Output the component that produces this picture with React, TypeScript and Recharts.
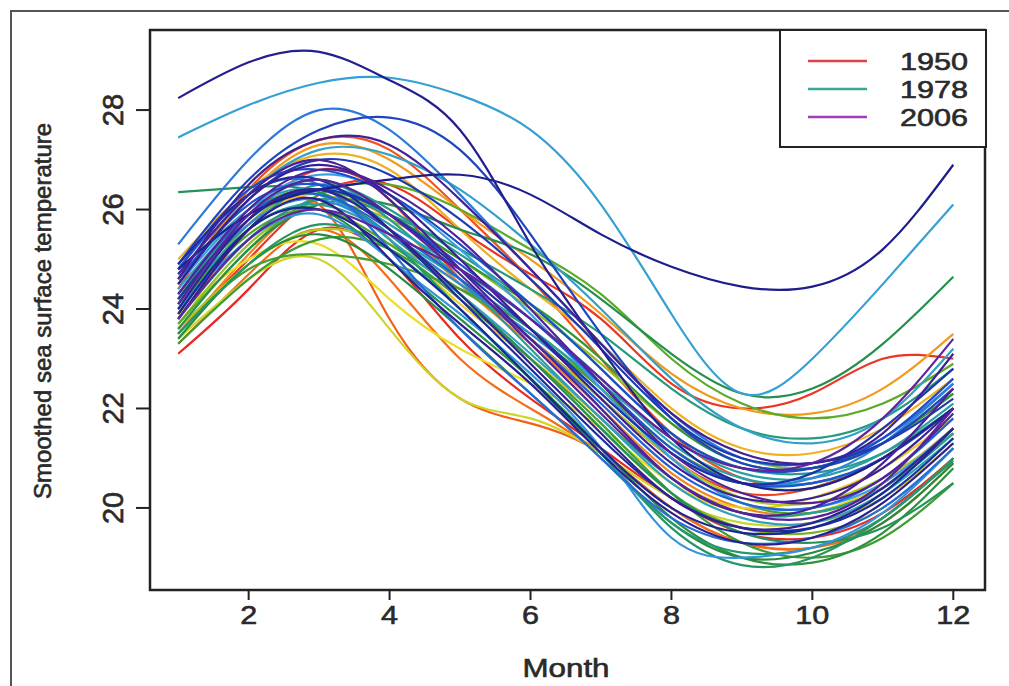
import React from 'react';
import { LineChart, Line, XAxis, YAxis, ReferenceArea } from 'recharts';

// Smoothed monthly sea surface temperature, one curve per year (1950-2006)
const months = [1, 2, 3, 4, 5, 6, 7, 8, 9, 10, 11, 12];
const xTicks = [2, 4, 6, 8, 10, 12];
const yTicks = [20, 22, 24, 26, 28];
const legendYears = ['1950', '1978', '2006'];

const sst1950 = [23.1, 24.4, 25.6, 25.0, 23.4, 22.2, 21.2, 20.2, 19.5, 19.4, 19.9, 21.0];
const sst1951 = [23.6, 25.0, 26.3, 26.5, 25.6, 24.7, 23.8, 22.5, 22.0, 22.3, 23.0, 23.0];
const sst1952 = [24.2, 25.8, 26.8, 26.2, 24.6, 23.4, 22.2, 21.0, 20.3, 20.4, 21.0, 22.0];
const sst1953 = [24.4, 26.4, 27.4, 27.2, 26.0, 24.6, 23.0, 21.5, 20.6, 20.5, 21.0, 22.0];
const sst1954 = [23.8, 25.6, 26.1, 23.8, 22.2, 21.7, 21.1, 20.0, 19.3, 19.2, 19.8, 21.0];
const sst1955 = [23.3, 24.7, 25.6, 24.6, 23.0, 22.0, 21.1, 20.0, 19.3, 19.2, 19.7, 20.9];
const sst1956 = [23.5, 25.1, 26.2, 25.8, 24.5, 23.3, 22.0, 20.7, 20.0, 19.9, 20.5, 21.6];
const sst1957 = [24.5, 26.3, 27.3, 27.0, 26.0, 25.0, 23.9, 22.7, 22.0, 21.9, 22.4, 23.5];
const sst1958 = [25.0, 26.4, 27.1, 26.8, 25.6, 24.4, 23.3, 22.0, 21.2, 21.1, 21.6, 22.6];
const sst1959 = [24.3, 25.7, 26.3, 25.4, 24.1, 23.0, 21.8, 20.6, 20.0, 20.2, 20.8, 21.8];
const sst1960 = [23.9, 25.0, 25.3, 24.2, 23.2, 22.5, 21.6, 20.5, 19.9, 19.9, 20.5, 21.6];
const sst1961 = [23.4, 24.6, 25.0, 23.6, 22.2, 21.8, 21.1, 20.2, 19.7, 19.7, 20.2, 21.3];
const sst1962 = [23.6, 24.9, 25.6, 25.3, 24.5, 23.4, 22.2, 21.0, 20.2, 20.1, 20.6, 21.5];
const sst1963 = [23.7, 25.3, 26.1, 25.8, 25.0, 24.0, 22.9, 21.7, 21.0, 20.8, 21.3, 22.3];
const sst1964 = [24.0, 25.7, 26.4, 25.6, 24.3, 23.0, 21.6, 20.3, 19.6, 19.5, 20.0, 21.2];
const sst1965 = [23.7, 25.2, 26.3, 26.5, 26.0, 25.2, 24.3, 23.0, 22.1, 21.8, 22.1, 22.9];
const sst1966 = [24.1, 25.5, 26.0, 25.3, 24.4, 23.5, 22.4, 21.2, 20.5, 20.4, 21.0, 22.0];
const sst1967 = [23.5, 24.8, 25.1, 24.9, 24.4, 23.6, 22.4, 21.0, 20.1, 19.9, 20.4, 21.5];
const sst1968 = [23.3, 24.6, 25.4, 25.2, 24.2, 23.0, 21.7, 20.3, 19.3, 19.0, 19.4, 20.5];
const sst1969 = [24.2, 25.9, 26.4, 25.9, 25.0, 24.1, 23.0, 21.7, 20.9, 20.8, 21.3, 22.3];
const sst1970 = [23.9, 25.6, 26.0, 25.0, 23.8, 22.6, 21.2, 19.8, 19.0, 18.9, 19.5, 20.8];
const sst1971 = [23.4, 24.9, 25.5, 24.8, 23.6, 22.3, 21.0, 19.7, 19.0, 19.1, 19.7, 20.9];
const sst1972 = [23.6, 25.2, 26.1, 26.1, 25.6, 25.1, 24.2, 23.1, 22.3, 22.4, 23.3, 24.65];
const sst1973 = [26.35, 26.45, 26.35, 25.5, 24.3, 23.0, 21.6, 20.3, 19.5, 19.3, 19.6, 20.5];
const sst1974 = [23.5, 24.9, 25.7, 25.2, 24.0, 22.6, 21.1, 19.6, 18.85, 19.0, 19.8, 20.95];
const sst1975 = [24.1, 25.8, 26.3, 25.4, 24.0, 22.6, 21.1, 19.7, 19.1, 19.2, 19.8, 21.0];
const sst1976 = [23.8, 25.4, 26.2, 25.9, 25.2, 24.4, 23.5, 22.4, 21.6, 21.4, 21.8, 22.8];
const sst1977 = [24.0, 25.6, 26.5, 26.0, 25.1, 24.1, 22.8, 21.5, 20.8, 20.7, 21.1, 22.0];
const sst1978 = [24.3, 25.9, 26.6, 25.8, 24.6, 23.2, 21.8, 20.6, 19.9, 19.9, 20.4, 21.5];
const sst1979 = [24.1, 25.6, 26.1, 25.5, 24.6, 23.6, 22.5, 21.4, 20.7, 20.6, 21.1, 22.1];
const sst1980 = [24.6, 26.0, 26.4, 25.7, 24.8, 23.8, 22.6, 21.3, 20.6, 20.5, 21.0, 22.0];
const sst1981 = [24.4, 25.9, 26.3, 25.4, 24.3, 23.1, 21.8, 20.5, 19.8, 19.7, 20.3, 21.4];
const sst1982 = [24.7, 26.3, 27.2, 27.1, 26.4, 25.3, 24.0, 22.6, 21.6, 21.3, 21.8, 23.2];
const sst1983 = [27.45, 28.1, 28.55, 28.65, 28.3, 27.6, 26.1, 23.9, 22.3, 23.0, 24.5, 26.1];
const sst1984 = [24.5, 26.0, 26.7, 26.3, 25.2, 23.9, 22.4, 21.0, 20.1, 20.0, 20.5, 21.6];
const sst1985 = [24.0, 25.4, 25.9, 25.0, 23.9, 22.7, 21.2, 19.4, 19.0, 19.2, 19.9, 21.2];
const sst1986 = [24.2, 25.7, 26.2, 25.5, 24.5, 23.5, 22.3, 21.1, 20.5, 20.6, 21.3, 22.5];
const sst1987 = [25.3, 27.0, 28.0, 27.6, 26.3, 24.8, 23.3, 21.9, 21.0, 20.9, 21.4, 22.5];
const sst1988 = [24.8, 26.3, 26.5, 25.2, 23.6, 22.3, 21.0, 19.8, 19.3, 19.4, 20.0, 21.2];
const sst1989 = [24.3, 25.9, 26.3, 25.6, 24.6, 23.4, 22.1, 20.8, 20.1, 20.0, 20.6, 21.8];
const sst1990 = [24.6, 26.1, 26.5, 25.9, 24.9, 23.8, 22.5, 21.2, 20.5, 20.5, 21.0, 22.0];
const sst1991 = [24.8, 26.4, 26.8, 26.3, 25.3, 24.1, 22.8, 21.5, 20.8, 20.8, 21.4, 22.6];
const sst1992 = [24.9, 26.6, 27.6, 27.85, 27.2, 25.5, 23.5, 21.8, 20.9, 20.8, 21.3, 22.4];
const sst1993 = [24.5, 26.2, 27.0, 26.7, 25.8, 24.6, 23.2, 21.8, 21.0, 20.9, 21.3, 22.2];
const sst1994 = [24.2, 25.8, 26.4, 25.9, 24.8, 23.6, 22.3, 21.1, 20.5, 20.7, 21.6, 22.8];
const sst1995 = [24.9, 26.3, 26.6, 25.6, 24.2, 22.8, 21.4, 20.2, 19.6, 19.6, 20.2, 21.4];
const sst1996 = [23.9, 25.6, 26.0, 25.2, 24.0, 22.6, 21.2, 20.0, 19.5, 19.6, 20.3, 21.6];
const sst1997 = [24.8, 25.9, 26.4, 26.6, 26.7, 26.3, 25.5, 24.85, 24.45, 24.45, 25.2, 26.9];
const sst1998 = [28.24, 28.96, 29.17, 28.6, 27.6, 25.3, 23.2, 21.4, 20.5, 20.4, 21.0, 22.0];
const sst1999 = [23.8, 25.6, 26.2, 25.0, 23.7, 22.5, 21.1, 19.9, 19.3, 19.4, 20.1, 21.3];
const sst2000 = [24.0, 25.8, 26.4, 25.6, 24.3, 22.9, 21.5, 20.2, 19.6, 19.7, 20.4, 21.6];
const sst2001 = [24.5, 26.2, 26.9, 26.3, 25.0, 23.6, 22.2, 20.9, 20.2, 20.2, 20.8, 22.0];
const sst2002 = [24.6, 26.5, 27.4, 27.3, 26.2, 24.8, 23.3, 21.9, 21.1, 20.9, 21.5, 23.1];
const sst2003 = [24.7, 26.3, 27.0, 26.2, 24.8, 23.4, 22.0, 20.6, 19.9, 20.0, 20.9, 22.4];
const sst2004 = [24.3, 26.0, 26.8, 26.4, 25.4, 24.0, 22.5, 21.1, 20.3, 20.1, 20.6, 21.9];
const sst2005 = [24.1, 25.9, 26.6, 25.9, 24.7, 23.3, 21.9, 20.6, 19.9, 19.8, 20.5, 22.0];
const sst2006 = [23.8, 25.4, 26.0, 25.5, 24.8, 23.8, 22.6, 21.4, 20.8, 20.9, 21.8, 23.4];

const years = [
  1950, 1951, 1952, 1953, 1954, 1955, 1956, 1957, 1958, 1959,
  1960, 1961, 1962, 1963, 1964, 1965, 1966, 1967, 1968, 1969,
  1970, 1971, 1972, 1973, 1974, 1975, 1976, 1977, 1978, 1979,
  1980, 1981, 1982, 1983, 1984, 1985, 1986, 1987, 1988, 1989,
  1990, 1991, 1992, 1993, 1994, 1995, 1996, 1997, 1998, 1999,
  2000, 2001, 2002, 2003, 2004, 2005, 2006,
];
const curves = [
  sst1950, sst1951, sst1952, sst1953, sst1954, sst1955, sst1956, sst1957, sst1958, sst1959,
  sst1960, sst1961, sst1962, sst1963, sst1964, sst1965, sst1966, sst1967, sst1968, sst1969,
  sst1970, sst1971, sst1972, sst1973, sst1974, sst1975, sst1976, sst1977, sst1978, sst1979,
  sst1980, sst1981, sst1982, sst1983, sst1984, sst1985, sst1986, sst1987, sst1988, sst1989,
  sst1990, sst1991, sst1992, sst1993, sst1994, sst1995, sst1996, sst1997, sst1998, sst1999,
  sst2000, sst2001, sst2002, sst2003, sst2004, sst2005, sst2006,
];

// colour ramp over the years: red -> orange -> yellow -> green -> teal -> blue -> navy -> purple
const colorStops: [number, number[]][] = [
  [1950, [232, 40, 36]],
  [1955, [244, 110, 24]],
  [1960, [236, 222, 40]],
  [1965, [92, 170, 40]],
  [1971, [36, 140, 64]],
  [1978, [40, 160, 150]],
  [1984, [56, 160, 224]],
  [1990, [32, 84, 210]],
  [1997, [28, 30, 140]],
  [2006, [96, 36, 156]],
];

function yearColor(year: number) {
  for (let i = 0; i < colorStops.length - 1; i++) {
    const [y0, c0] = colorStops[i];
    const [y1, c1] = colorStops[i + 1];
    if (year >= y0 && year <= y1) {
      const t = (year - y0) / (y1 - y0);
      const c = c0.map((v, k) => Math.round(v + (c1[k] - v) * t));
      return `rgb(${c[0]},${c[1]},${c[2]})`;
    }
  }
  return 'rgb(96,36,156)';
}

const legendColors = ['#e0404a', '#3aa89a', '#a03cb4'];

const chartData = months.map((m, i) => {
  const row: Record<string, number> = { month: m };
  years.forEach((yr, j) => {
    row[`y${yr}`] = curves[j][i];
  });
  return row;
});

const FONT = '"Liberation Sans", Arial, Helvetica, sans-serif';
const INK = '#2a2a2a';
// the scanned text reads heavier than a plain regular weight
const heavy = { stroke: INK, strokeWidth: 0.6 };

const XTick = (props: any) => {
  const { x, y, payload } = props;
  const w = String(payload.value).length * 17;
  return (
    <text x={x} y={y + 22} textAnchor="middle" fontFamily={FONT} fontSize={26} fill={INK} {...heavy}
      textLength={w} lengthAdjust="spacingAndGlyphs">
      {payload.value}
    </text>
  );
};

const YTick = (props: any) => {
  const { x, y, payload } = props;
  const cx = x - 7;
  return (
    <text x={cx} y={y} transform={`rotate(-90 ${cx} ${y})`} textAnchor="middle"
      dominantBaseline="central" fontFamily={FONT} fontSize={29} fill={INK} {...heavy}>
      {payload.value}
    </text>
  );
};

const SstLegend = () => (
  <div style={{ position: 'absolute', left: 779, top: 29, width: 204, height: 115, border: '2px solid #222', background: '#fff' }}>
    <svg width={204} height={115} style={{ display: 'block' }}>
      {legendYears.map((yr, i) => (
        <g key={yr}>
          <line x1={27} x2={86} y1={30 + i * 28} y2={30 + i * 28} stroke={legendColors[i]} strokeWidth={2.5} />
          <text x={119} y={39 + i * 28} fontFamily={FONT} fontSize={24} fill={INK} {...heavy}
            textLength={68} lengthAdjust="spacingAndGlyphs">
            {yr}
          </text>
        </g>
      ))}
    </svg>
  </div>
);

export default function App() {
  return (
    <div style={{ position: 'absolute', left: 0, top: 0, width: 1009, height: 686, overflow: 'hidden', background: '#fff' }}>
      <div style={{ position: 'absolute', left: 10, top: 10, width: 1100, height: 800, borderLeft: '2px solid #555', borderTop: '2px solid #555' }} />
      <div style={{ position: 'absolute', left: 0, top: 0 }}>
        <LineChart width={1009} height={686} data={chartData} margin={{ top: 30, right: 24, bottom: 0, left: 0 }}>
          <XAxis
            dataKey="month"
            type="number"
            domain={[0.6, 12.45]}
            ticks={xTicks}
            allowDataOverflow
            axisLine={false}
            tickLine={{ stroke: '#222', strokeWidth: 2 }}
            tickSize={10}
            height={96}
            tick={<XTick />}
            label={{
              content: () => (
                <text x={566} y={677} textAnchor="middle" fontFamily={FONT} fontSize={25} fill={INK} {...heavy}
                  textLength={87} lengthAdjust="spacingAndGlyphs">
                  Month
                </text>
              ),
            }}
          />
          <YAxis
            type="number"
            domain={[18.35, 29.61]}
            ticks={yTicks}
            allowDataOverflow
            axisLine={false}
            tickLine={{ stroke: '#222', strokeWidth: 2 }}
            tickSize={14}
            tickMargin={16}
            width={150}
            tick={<YTick />}
            label={{
              content: () => (
                <text x={42} y={311} transform="rotate(-90 42 311)" textAnchor="middle"
                  dominantBaseline="central" fontFamily={FONT} fontSize={24} fill={INK} {...heavy}>
                  Smoothed sea surface temperature
                </text>
              ),
            }}
          />
          {years.map((yr) => (
            <Line
              key={yr}
              type="natural"
              dataKey={`y${yr}`}
              stroke={yearColor(yr)}
              strokeWidth={2.2}
              dot={false}
              activeDot={false}
              isAnimationActive={false}
            />
          ))}
          <ReferenceArea x1={0.6} x2={12.45} y1={18.35} y2={29.61} fill="none" stroke="#222" strokeWidth={2.5} ifOverflow="visible" />
        </LineChart>
      </div>
      <SstLegend />
    </div>
  );
}
